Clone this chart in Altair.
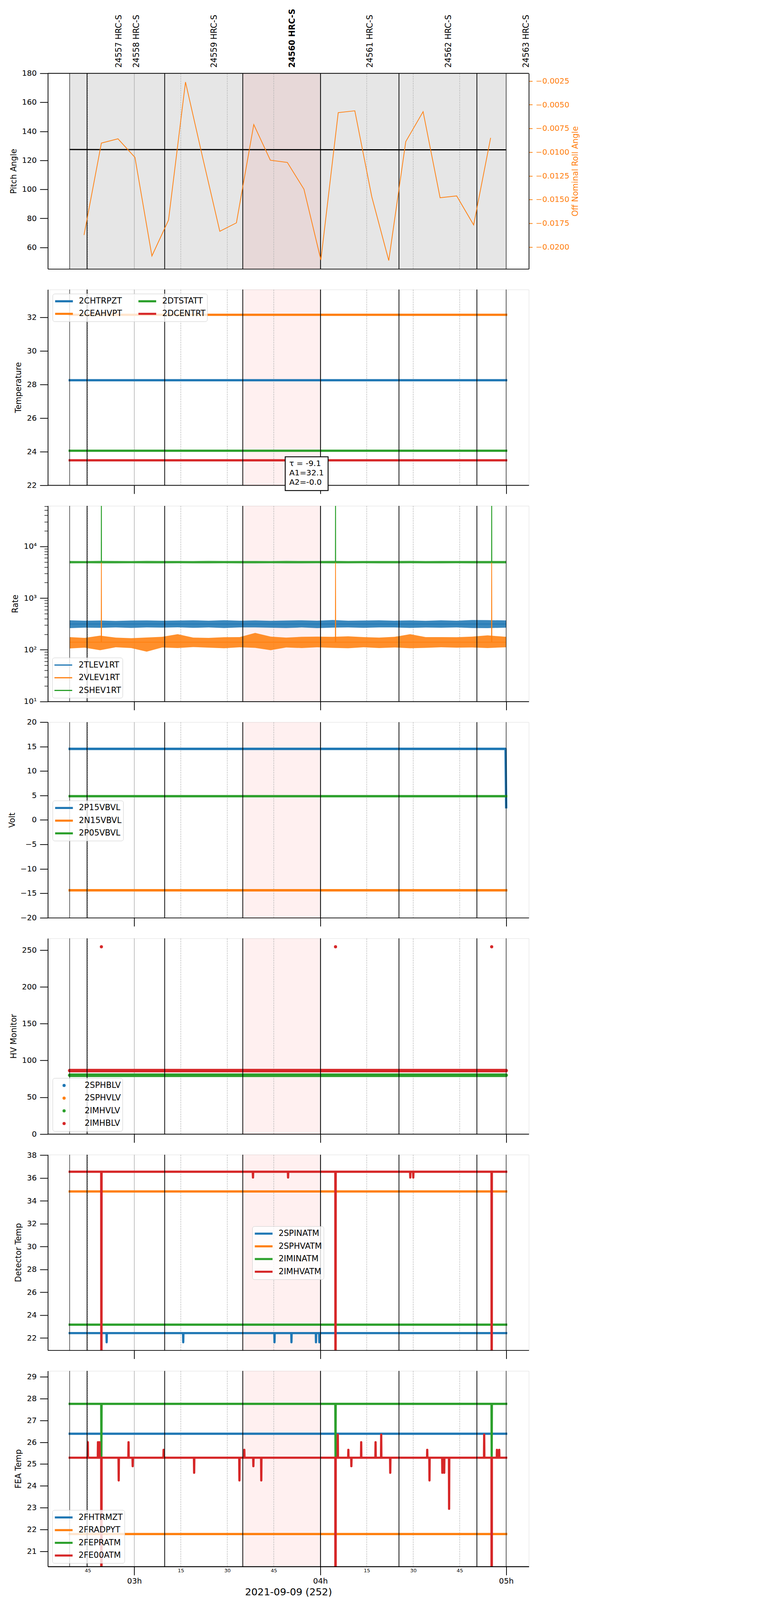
import altair as alt
import pandas as pd

FONT = "DejaVu Sans"
BLUE, ORANGE, GREEN, RED = "#1f77b4", "#ff7f0e", "#2ca02c", "#d62728"
K = 0.7575  # page pixels per reference pixel


def px(v):
    return round(v * K, 2)


W, H = px(1626), px(661)
SPACING = px(69.5)

# ---------------- time axis: minutes after 2021-09-09 00:00 ----------------
x_domain = [152.1, 307.3]
t_start = 159.15
t_end = 300.0
grid_minor = [165, 195, 210, 225, 255, 270, 285]
grid_hour = [180, 240, 300]
x_title = "2021-09-09 (252)"

# ---------------- observations ----------------
obs_ids = ["24557", "24558", "24559", "24560", "24561", "24562", "24563"]
obs_label_t = [175.15, 180.75, 205.8, 231.0, 256.1, 281.4, 306.55]
obs_bold = [False, False, False, True, False, False, False]
obs_line_t = [159.15, 164.75, 189.8, 215.0, 240.1, 265.4, 290.55, 300.0]
obs_line_w = [1.5, 2.5, 2.5, 2.5, 2.5, 2.5, 2.5, 1.5]
focus_obs = [215.0, 240.1]
spike_t = [169.38, 244.93, 295.32]

# ---------------- panel 1: pitch / roll ----------------
pitch_domain = [45.17, 180]
pitch_ticks = [60, 80, 100, 120, 140, 160, 180]
pitch_t = [159.15, 229.6, 300.0]
pitch_v = [127.45, 127.35, 127.25]
roll_domain = [-0.022305, -0.001689]
roll_ticks = [-0.02, -0.0175, -0.015, -0.0125, -0.01, -0.0075, -0.005, -0.0025]
roll_t = [163.78, 169.38, 174.73, 180.21, 185.68, 191.04, 196.52, 202.11, 207.59,
          212.95, 218.55, 223.90, 229.38, 234.74, 240.21, 245.80, 251.16, 256.64,
          262.11, 267.59, 273.19, 278.67, 284.02, 289.50, 294.98]
roll_v = [-0.01873, -0.00904, -0.00859, -0.01055, -0.02094, -0.01716, -0.00261,
          -0.01064, -0.01834, -0.01745, -0.00709, -0.01085, -0.01108, -0.01390,
          -0.02136, -0.00583, -0.00564, -0.01471, -0.02142, -0.00889, -0.00573,
          -0.01480, -0.01461, -0.01767, -0.00849]

# ---------------- panel 2: temperature ----------------
temp_domain = [22, 33.65]
temp_ticks = [22, 24, 26, 28, 30, 32]
temp_names = ["2CHTRPZT", "2CEAHVPT", "2DTSTATT", "2DCENTRT"]
temp_values = [28.25, 32.15, 24.05, 23.48]
fit_tau, fit_a1, fit_a2 = -9.1, 32.1, -0.0
fit_t, fit_y = 230.0, 23.52
fit_box_t = [228.7, 242.53]
fit_box_y = [21.68, 23.69]

# ---------------- panel 3: rates ----------------
rate_domain = [10, 61000]
rate_major = [10, 100, 1000, 10000]
rate_minor = [20, 30, 40, 50, 60, 70, 80, 90, 200, 300, 400, 500, 600, 700, 800, 900,
              2000, 3000, 4000, 5000, 6000, 7000, 8000, 9000, 20000, 30000, 40000,
              50000, 60000]
rate_names = ["2TLEV1RT", "2VLEV1RT", "2SHEV1RT"]
rate_level = [315, 140, 4950]
rate_spike_top = [315, 4900, 1000000]
rate_band_t = [159.15, 164, 169, 174, 179, 184, 189, 194, 199, 204, 209, 214, 219, 224,
               229, 234, 239, 244, 249, 254, 259, 264, 269, 274, 279, 284, 289, 294, 300.0]
tlev_lo = [262, 268, 266, 270, 265, 270, 268, 272, 266, 270, 264, 270, 271, 267, 264,
           270, 262, 268, 271, 266, 270, 270, 265, 269, 267, 271, 264, 263, 268]
tlev_hi = [372, 365, 368, 362, 368, 370, 366, 368, 372, 366, 374, 366, 370, 364, 368,
           372, 366, 376, 365, 368, 371, 366, 370, 364, 371, 365, 377, 375, 370]
vlev_lo = [106, 110, 98, 112, 108, 92, 111, 108, 113, 110, 107, 112, 109, 98, 111,
           108, 112, 109, 107, 112, 108, 111, 107, 109, 112, 110, 111, 108, 112]
vlev_hi = [176, 170, 188, 172, 168, 173, 178, 200, 172, 170, 175, 176, 212, 180, 172,
           178, 180, 178, 182, 176, 172, 178, 200, 176, 176, 175, 180, 190, 178]
shev_lo = [4700, 4720, 4690, 4710, 4730, 4700, 4690, 4720, 4710, 4700, 4730, 4690, 4710,
           4720, 4700, 4690, 4720, 4700, 4710, 4730, 4700, 4690, 4720, 4710, 4700, 4720,
           4690, 4710, 4700]
shev_hi = [5250, 5220, 5260, 5240, 5210, 5270, 5230, 5250, 5220, 5260, 5240, 5230, 5250,
           5220, 5260, 5240, 5230, 5270, 5220, 5250, 5240, 5230, 5260, 5220, 5250, 5240,
           5230, 5250, 5240]

# ---------------- panel 4: voltages ----------------
volt_domain = [-20, 20]
volt_ticks = [-20, -15, -10, -5, 0, 5, 10, 15, 20]
volt_names = ["2P15VBVL", "2N15VBVL", "2P05VBVL"]
p15_t = [159.15, 299.8, 300.0]
p15_v = [14.53, 14.53, 2.6]
n15_v = -14.39
p05_v = 4.85

# ---------------- panel 5: HV monitor ----------------
hv_domain = [0, 266]
hv_ticks = [0, 50, 100, 150, 200, 250]
hv_names = ["2SPHBLV", "2SPHVLV", "2IMHVLV", "2IMHBLV"]
hv_green_level = 79.9
hv_red_level = 86.2
hv_outlier_v = [254.6, 254.6, 254.6]

# ---------------- panel 6: detector temperatures ----------------
det_domain = [20.93, 38.04]
det_ticks = [22, 24, 26, 28, 30, 32, 34, 36, 38]
det_names = ["2SPINATM", "2SPHVATM", "2IMINATM", "2IMHVATM"]
det_base = [22.43, 34.82, 23.17, 36.55]
det_blue_spike_t = [171.08, 195.79, 225.24, 230.71, 238.63, 239.72]
det_blue_spike_v = [21.63, 21.63, 21.63, 21.63, 21.63, 21.63]
det_red_spike_t = [169.38, 218.30, 229.62, 244.93, 269.05, 270.02, 295.32]
det_red_spike_v = [0.0, 36.04, 36.04, 0.0, 36.04, 36.04, 0.0]

# ---------------- panel 7: FEA temperatures ----------------
fea_domain = [20.30, 29.27]
fea_ticks = [21, 22, 23, 24, 25, 26, 27, 28, 29]
fea_names = ["2FHTRMZT", "2FRADPYT", "2FEPRATM", "2FE00ATM"]
fea_base = [26.39, 21.79, 27.76, 25.29]
fea_green_spike_v = [25.35, 25.35, 25.35]
fea_red_spike_t = [165.0, 168.28, 168.77, 169.38, 174.97, 178.14, 179.48, 189.46, 199.31,
                   213.92, 215.50, 218.42, 220.97, 244.93, 245.66, 249.07, 250.04, 253.21,
                   257.85, 259.67, 262.59, 274.52, 275.25, 279.39, 280.00, 281.58, 292.90,
                   295.32, 297.02, 297.75]
fea_red_spike_v = [26.0, 26.0, 26.0, 0.0, 24.25, 26.0, 24.9, 25.65, 24.6, 24.25, 25.65,
                   24.9, 24.25, 0.0, 26.35, 25.65, 24.9, 26.0, 26.0, 26.35, 24.6, 25.65,
                   24.25, 24.6, 24.6, 22.95, 26.35, 0.0, 25.65, 25.65]

PALETTE = [BLUE, ORANGE, GREEN, RED]

# font sizes / strokes (page pixels)
FS_LABEL, FS_TITLE, FS_MINOR, FS_XTITLE = px(26.2), px(27.2), px(16.8), px(33.4)
FS_LEGEND = px(27.5)
LW_THICK = px(7.5)
LW_AXIS = px(2.5)


# ====================== helpers ======================
def spiky(base, st=(), sv=(), half=0.06, t0=t_start, t1=t_end):
    ts, vs = [t0], [base]
    for t, v in zip(st, sv):
        ts += [t - half, t, t + half]
        vs += [base, v, base]
    ts.append(t1)
    vs.append(base)
    return ts, vs


def frame(name, ts, vs):
    return pd.DataFrame({"t": ts, "v": vs, "series": [name] * len(ts)})


def xenc(field="t", axis=None):
    return alt.X(f"{field}:Q", scale=alt.Scale(domain=x_domain, nice=False, zero=False), axis=axis)


AX = dict(grid=False, domainColor="black", domainWidth=LW_AXIS, tickColor="black",
          tickWidth=LW_AXIS, labelColor="black", labelFont=FONT, titleFont=FONT)

xaxis_top = alt.Axis(values=grid_hour, labels=False, ticks=False, title=None, zindex=1,
                     orient="bottom", **AX)
xaxis_mid = alt.Axis(values=grid_hour, labels=False, tickSize=px(29), title=None, zindex=1,
                     orient="bottom", **AX)
xaxis_mid0 = alt.Axis(values=grid_hour, labels=False, tickSize=px(29), title=None, zindex=0,
                      orient="bottom", **AX)
xaxis_bottom = alt.Axis(values=grid_hour, labelExpr="'0' + (datum.value / 60) + 'h'",
                        tickSize=px(29), labelFontSize=FS_LABEL, labelPadding=px(7),
                        labelFlush=False, title=x_title, titleFontSize=FS_XTITLE,
                        titleFontWeight="normal", titlePadding=px(8), titleColor="black",
                        zindex=1, orient="bottom", **AX)
xaxis_minor = alt.Axis(values=grid_minor, labelExpr="'' + (datum.value % 60)", ticks=False,
                       tickSize=0, labelFontSize=FS_MINOR, labelPadding=px(5),
                       labelFlush=False, title=None, zindex=1, orient="bottom", **AX)


def yaxis(title, values, **kw):
    d = dict(AX)
    d.update(title=title, values=values, tickSize=px(27), labelFontSize=FS_LABEL,
             labelPadding=px(11), titleFontSize=FS_TITLE, titleFontWeight="normal",
             titlePadding=px(14), titleColor="black", orient="left", labelOverlap=False,
             zindex=1)
    d.update(kw)
    return alt.Axis(**d)


def yscale(dom, **kw):
    return alt.Scale(domain=dom, nice=False, zero=False, **kw)


def legend(x, y, **kw):
    d = dict(orient="none", legendX=px(x), legendY=px(y), title=None, symbolType="stroke",
             symbolSize=round(px(60) ** 2), symbolStrokeWidth=px(7), clipHeight=px(40),
             rowPadding=px(2), labelFontSize=FS_LEGEND, labelFont=FONT, labelColor="black",
             labelOffset=12.7, padding=px(5), fillColor="rgba(255,255,255,0.8)",
             strokeColor="#cccccc", cornerRadius=px(7))
    d.update(kw)
    return alt.Legend(**d)


def backdrop(gray=False, minor_axis=None):
    out = []
    if gray:
        out.append(alt.Chart(pd.DataFrame({"a": [t_start], "b": [t_end]}))
                   .mark_rect(color="#e6e6e6").encode(x=xenc("a"), x2="b:Q"))
    out.append(alt.Chart(pd.DataFrame({"a": [focus_obs[0]], "b": [focus_obs[1]]}))
               .mark_rect(color="#ff0000", opacity=0.06).encode(x=xenc("a"), x2="b:Q"))
    out.append(alt.Chart(pd.DataFrame({"t": grid_minor}))
               .mark_rule(color="#b0b0b0", strokeWidth=px(1.5), strokeDash=[px(5.5), px(2.5)])
               .encode(x=xenc(axis=minor_axis)))
    out.append(alt.Chart(pd.DataFrame({"t": grid_hour}))
               .mark_rule(color="#b0b0b0", strokeWidth=px(2)).encode(x=xenc()))
    return out


def obs_rules():
    return (alt.Chart(pd.DataFrame({"t": obs_line_t, "w": [px(w) for w in obs_line_w]}))
            .mark_rule(color="black")
            .encode(x=xenc(), strokeWidth=alt.StrokeWidth("w:Q", scale=None, legend=None)))


def line_layers(dfs, names, colors, ydom, yax, xax, leg, width=LW_THICK, clip=True):
    cscale = alt.Scale(domain=names, range=colors)
    out = []
    for i, df in enumerate(dfs):
        out.append(alt.Chart(df).mark_line(strokeWidth=width, strokeJoin="round",
                                           strokeCap="square", clip=clip)
                   .encode(x=xenc(axis=xax if i == 0 else None),
                           y=alt.Y("v:Q", scale=yscale(ydom), axis=yax if i == 0 else None),
                           color=alt.Color("series:N", scale=cscale,
                                           legend=leg if i == 0 else None)))
    return out


def panel(*layers):
    return (alt.layer(*layers)
            .resolve_axis(x="independent", y="independent")
            .resolve_legend(color="independent")
            .properties(width=W, height=H))


# ====================== panel 1 ======================
labels_df = pd.DataFrame({"t": obs_label_t, "name": [f"{o} HRC-S" for o in obs_ids],
                          "bold": obs_bold})
roll_axis = alt.Axis(orient="right", title="Off Nominal Roll Angle", values=roll_ticks,
                     format=".4f", tickSize=px(12), tickWidth=LW_AXIS, tickColor=ORANGE,
                     labelColor=ORANGE, titleColor=ORANGE, labelFontSize=FS_LABEL,
                     labelPadding=px(11), titleFontSize=FS_TITLE, titleFontWeight="normal",
                     titleAngle=270, titleBaseline="top", titlePadding=px(8),
                     domainColor="black", domainWidth=LW_AXIS, grid=False, labelFont=FONT,
                     titleFont=FONT, labelOverlap=False, zindex=1)
p1 = alt.layer(
    *backdrop(gray=True),
    alt.Chart(pd.DataFrame({"t": pitch_t, "v": pitch_v}))
    .mark_line(color="black", strokeWidth=px(4))
    .encode(x=xenc(axis=xaxis_top),
            y=alt.Y("v:Q", scale=yscale(pitch_domain), axis=yaxis("Pitch Angle", pitch_ticks))),
    obs_rules(),
    alt.Chart(pd.DataFrame({"v": [pitch_domain[1]]})).mark_rule(color="black", strokeWidth=LW_AXIS)
    .encode(y=alt.Y("v:Q", scale=yscale(pitch_domain), axis=None)),
    alt.Chart(pd.DataFrame({"t": roll_t, "v": roll_v}))
    .mark_line(color=ORANGE, strokeWidth=px(2.5))
    .encode(x=xenc(), y=alt.Y("v:Q", scale=yscale(roll_domain), axis=roll_axis)),
    alt.Chart(labels_df).transform_filter("!datum.bold")
    .mark_text(angle=270, align="left", baseline="middle", fontSize=FS_TITLE, font=FONT,
               color="black")
    .encode(x=xenc(), y=alt.value(px(-19)), text="name:N"),
    alt.Chart(labels_df).transform_filter("datum.bold")
    .mark_text(angle=270, align="left", baseline="middle", fontSize=FS_TITLE, font=FONT,
               fontWeight="bold", color="black")
    .encode(x=xenc(), y=alt.value(px(-19)), text="name:N"),
).resolve_scale(y="independent").resolve_axis(x="independent").properties(width=W, height=H)

# ====================== panel 2 ======================
temp_dfs = [frame(n, [t_start, t_end], [v, v]) for n, v in zip(temp_names, temp_values)]
fit_df = pd.DataFrame({"t": [fit_t], "v": [fit_y],
                       "txt": [f"τ = {fit_tau:.1f}\nA1={fit_a1:.1f}\nA2={fit_a2:.1f}"]})
box_df = pd.DataFrame({"a": [fit_box_t[0]], "b": [fit_box_t[1]],
                       "lo": [fit_box_y[0]], "hi": [fit_box_y[1]]})
p2 = panel(
    *backdrop(),
    *line_layers(temp_dfs, temp_names, PALETTE, temp_domain,
                 yaxis("Temperature", temp_ticks), xaxis_mid0,
                 legend(16, 14, columns=2, columnPadding=38.3), clip=False),
    obs_rules(),
    alt.Chart(box_df).mark_rect(fill="white", stroke="black", strokeWidth=px(3))
    .encode(x=xenc("a"), x2="b:Q", y=alt.Y("lo:Q", scale=yscale(temp_domain), axis=None), y2="hi:Q"),
    alt.Chart(fit_df).mark_text(align="left", baseline="top", fontSize=px(26.7), font=FONT,
                                lineBreak="\n", lineHeight=px(31.7), color="black")
    .encode(x=xenc(), y=alt.Y("v:Q", scale=yscale(temp_domain), axis=None), text="txt:N"),
)

# ====================== panel 3 ======================
rate_los = [tlev_lo, vlev_lo, shev_lo]
rate_his = [tlev_hi, vlev_hi, shev_hi]
band_df = pd.concat([pd.DataFrame({"t": rate_band_t, "lo": lo, "hi": hi,
                                   "series": [n] * len(rate_band_t)})
                     for n, lo, hi in zip(rate_names, rate_los, rate_his)])
rate_line_dfs = []
for n, lvl, top in zip(rate_names, rate_level, rate_spike_top):
    ts, vs = spiky(lvl, spike_t, [top] * len(spike_t))
    rate_line_dfs.append(frame(n, ts, vs))
rate_cscale = alt.Scale(domain=rate_names, range=[BLUE, ORANGE, GREEN])
rate_minor_axis = alt.Axis(values=rate_minor, labels=False, tickSize=px(12), tickWidth=px(1.8),
                           tickColor="black", domainColor="black", domainWidth=LW_AXIS,
                           grid=False, title=None, orient="left", zindex=1)
rate_major_axis = yaxis(
    "Rate", rate_major,
    labelExpr="datum.value == 10 ? '10¹' : datum.value == 100 ? '10²' : "
              "datum.value == 1000 ? '10³' : '10⁴'")
p3 = panel(
    *backdrop(),
    alt.Chart(band_df).mark_area(opacity=0.88, clip=True)
    .encode(x=xenc(), y=alt.Y("lo:Q", scale=yscale(rate_domain, type="log"), axis=rate_minor_axis),
            y2="hi:Q", color=alt.Color("series:N", scale=rate_cscale, legend=None)),
    *[alt.Chart(df).mark_line(strokeWidth=px(2.5), clip=True)
      .encode(x=xenc(axis=xaxis_mid if i == 0 else None),
              y=alt.Y("v:Q", scale=yscale(rate_domain, type="log"),
                      axis=rate_major_axis if i == 0 else None),
              color=alt.Color("series:N", scale=rate_cscale,
                              legend=legend(15, 513, symbolStrokeWidth=px(4), labelOffset=14.8)
                              if i == 0 else None))
      for i, df in enumerate(rate_line_dfs)],
    obs_rules(),
)

# ====================== panel 4 ======================
volt_dfs = [frame(volt_names[0], p15_t, p15_v),
            frame(volt_names[1], [t_start, t_end], [n15_v, n15_v]),
            frame(volt_names[2], [t_start, t_end], [p05_v, p05_v])]
p4 = panel(
    *backdrop(),
    *line_layers(volt_dfs, volt_names, [BLUE, ORANGE, GREEN], volt_domain,
                 yaxis("Volt", volt_ticks), xaxis_mid, legend(16, 265), width=px(8)),
    obs_rules(),
)

# ====================== panel 5 ======================
hv_cscale = alt.Scale(domain=hv_names, range=PALETTE)
hv_band_df = pd.concat([frame(hv_names[2], [t_start, t_end], [hv_green_level] * 2),
                        frame(hv_names[3], [t_start, t_end], [hv_red_level] * 2)])
hv_out_df = pd.DataFrame({"t": spike_t, "v": hv_outlier_v, "series": [hv_names[3]] * 3})
p5 = panel(
    *backdrop(),
    alt.Chart(hv_band_df).mark_line(strokeWidth=px(12), strokeCap="round")
    .encode(x=xenc(axis=xaxis_mid),
            y=alt.Y("v:Q", scale=yscale(hv_domain), axis=yaxis("HV Monitor", hv_ticks)),
            color=alt.Color("series:N", scale=hv_cscale, legend=None)),
    alt.Chart(hv_out_df).mark_circle(size=round(3.1416 * px(6) ** 2), opacity=1)
    .encode(x=xenc(), y=alt.Y("v:Q", scale=yscale(hv_domain), axis=None),
            color=alt.Color("series:N", scale=hv_cscale,
                            legend=legend(16, 472, symbolType="circle",
                                          symbolSize=round(3.1416 * px(6) ** 2),
                                          symbolOffset=15.3, labelOffset=42.2))),
    obs_rules(),
)

# ====================== panel 6 ======================
det_dfs = [frame(det_names[0], *spiky(det_base[0], det_blue_spike_t, det_blue_spike_v)),
           frame(det_names[1], *spiky(det_base[1])),
           frame(det_names[2], *spiky(det_base[2])),
           frame(det_names[3], *spiky(det_base[3], det_red_spike_t, det_red_spike_v))]
p6 = panel(
    *backdrop(),
    *line_layers(det_dfs, det_names, PALETTE, det_domain, yaxis("Detector Temp", det_ticks),
                 xaxis_mid, legend(691, 242)),
    obs_rules(),
)

# ====================== panel 7 ======================
fea_dfs = [frame(fea_names[0], *spiky(fea_base[0])),
           frame(fea_names[1], *spiky(fea_base[1])),
           frame(fea_names[2], *spiky(fea_base[2], spike_t, fea_green_spike_v)),
           frame(fea_names[3], *spiky(fea_base[3], fea_red_spike_t, fea_red_spike_v))]
p7 = panel(
    *backdrop(minor_axis=xaxis_minor),
    *line_layers(fea_dfs, fea_names, PALETTE, fea_domain, yaxis("FEA Temp", fea_ticks),
                 xaxis_bottom, legend(15, 470)),
    obs_rules(),
)

chart = (
    alt.vconcat(p1, p2, p3, p4, p5, p6, p7, spacing=SPACING, bounds="flush")
    .resolve_scale(color="independent")
    .properties(padding={"left": 12.5, "top": 13.7, "right": 5, "bottom": 0},
                background="white")
    .configure_view(stroke="black", strokeWidth=LW_AXIS)
    .configure_legend(strokeWidth=px(2.5))
    .configure(font=FONT)
)

chart.save("out.html", embed_options={"renderer": "svg", "actions": False})
